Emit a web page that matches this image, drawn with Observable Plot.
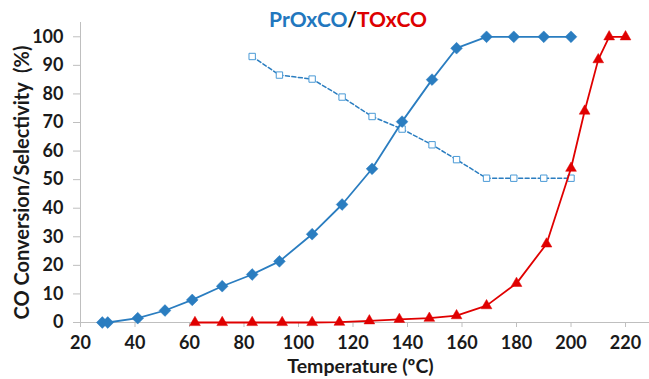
<!DOCTYPE html>
<html>
<head>
<meta charset="utf-8">
<script src="https://cdn.jsdelivr.net/npm/d3@7"></script>
<script src="https://cdn.jsdelivr.net/npm/@observablehq/plot@0.6"></script>
<style>
  body { margin: 0; background: #fff; }
  #wrap { position: relative; width: 649px; height: 379px; font-family: Lato, "Open Sans", sans-serif; }
  #title { position: absolute; top: 6px; left: 0; width: 696px; text-align: center; font-weight: bold; font-size: 21px; line-height: 26px; }
  #title .b { color: #2277be; }
  #title .k { color: #111; }
  #title .r { color: #dd0000; }
</style>
</head>
<body>
<div id="wrap">
  <div id="chart"></div>
  <div id="title"><span class="b">PrOxCO</span><span class="k">/</span><span class="r">TOxCO</span></div>
</div>
<script>
// PrOxCO CO conversion (%)
const convT = [28, 30, 41, 51, 61, 72, 83, 93, 105, 116, 127, 138, 149, 158, 169, 179, 190, 200];
const conv  = [0, 0, 1.5, 4.2, 7.9, 12.7, 16.8, 21.4, 30.9, 41.3, 53.8, 70.3, 85, 96, 100, 100, 100, 100];
// PrOxCO selectivity (%)
const selT = [83, 93, 105, 116, 127, 138, 149, 158, 169, 179, 190, 200];
const sel  = [93.1, 86.6, 85.2, 78.9, 72.1, 67.7, 62.2, 57, 50.5, 50.5, 50.5, 50.5];
// TOxCO CO conversion (%)
const toxT = [62, 72, 83, 94, 105, 115, 126, 137, 148, 158, 169, 180, 191, 200, 205, 210, 214, 220];
const tox  = [0, 0, 0, 0, 0, 0.1, 0.6, 1.1, 1.5, 2.4, 5.9, 13.7, 27.5, 54, 74, 92, 100, 100];
// ticks
const xTicks = [20, 40, 60, 80, 100, 120, 140, 160, 180, 200, 220];
const yTicks = [0, 10, 20, 30, 40, 50, 60, 70, 80, 90, 100];

const convData = convT.map((t, i) => ({t, v: conv[i]}));
const selData = selT.map((t, i) => ({t, v: sel[i]}));
const toxData = toxT.map((t, i) => ({t, v: tox[i]}));

const blue = "#2a7dc0";
const red = "#e00000";
const axisGray = "#bfbfbf";
const font = "Lato, 'Open Sans', sans-serif";

const chart = Plot.plot({
  width: 649,
  height: 379,
  marginLeft: 80,
  marginRight: 0,
  marginTop: 22,
  marginBottom: 57,
  style: {fontFamily: font, background: "white", overflow: "visible"},
  x: {type: "linear", domain: [20, 228.8], axis: null},
  y: {type: "linear", domain: [0, 105], axis: null},
  marks: [
    Plot.ruleY([0], {stroke: axisGray, strokeWidth: 1}),
    Plot.ruleX([20], {stroke: axisGray, strokeWidth: 1}),
    Plot.axisX({ticks: xTicks, tickSize: 5, tickPadding: 9, stroke: axisGray, fill: "#1a1a1a", fontSize: 18, fontWeight: "bold", tickFormat: d => d, label: null}),
    Plot.axisY({ticks: yTicks, tickSize: 7, tickPadding: 10, stroke: axisGray, fill: "#1a1a1a", fontSize: 18, fontWeight: "bold", tickFormat: d => d, label: null}),
    Plot.line(selData, {x: "t", y: "v", stroke: blue, strokeWidth: 1.5, strokeDasharray: "4,2.5"}),
    Plot.dot(selData, {x: "t", y: "v", symbol: "square", r: 3.6, fill: "white", stroke: "#4a9ad6", strokeWidth: 1}),
    Plot.line(convData, {x: "t", y: "v", stroke: blue, strokeWidth: 1.8}),
    Plot.dot(convData, {x: "t", y: "v", symbol: "diamond2", r: 5.3, fill: blue, stroke: blue, strokeWidth: 0.5}),
    Plot.line(toxData, {x: "t", y: "v", stroke: red, strokeWidth: 1.8}),
    Plot.dot(toxData, {x: "t", y: "v", symbol: "triangle", r: 4, fill: red, stroke: red, strokeWidth: 0.5}),
    Plot.text(["Temperature (ºC)"], {frameAnchor: "bottom", dy: 50, dx: -4.5, fontSize: 19.5, fontWeight: "bold", fill: "#1a1a1a"}),
    Plot.text(["CO Conversion/Selectivity  (%)"], {frameAnchor: "left", textAnchor: "middle", dx: -58, dy: 10, rotate: -90, fontSize: 20, fontWeight: "bold", fill: "#1a1a1a"})
  ]
});
document.getElementById("chart").appendChild(chart);
</script>
</body>
</html>
